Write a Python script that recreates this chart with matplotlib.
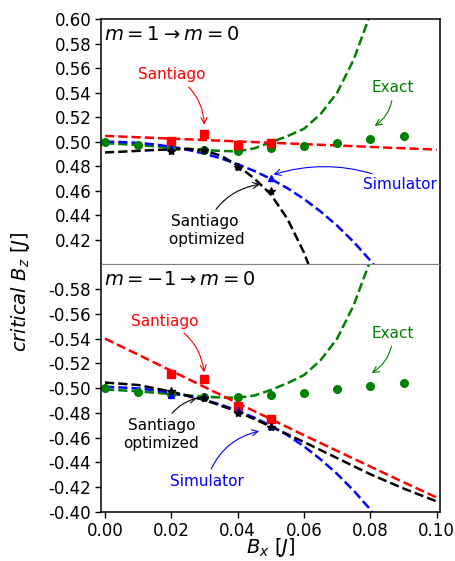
import matplotlib

matplotlib.use("Agg")
import matplotlib.pyplot as plt

# dense x positions for the fitted curves
BX_FINE = [0.000, 0.005, 0.010, 0.015, 0.020, 0.025, 0.030, 0.035, 0.040,
           0.045, 0.050, 0.055, 0.060, 0.065, 0.070, 0.075, 0.080, 0.085]
BX_COARSE = [0.00, 0.01, 0.02, 0.03, 0.04, 0.05, 0.06, 0.07, 0.08, 0.09, 0.10]
BX_BLACK_TOP = [0.000, 0.005, 0.010, 0.015, 0.020, 0.025, 0.030, 0.035,
                0.040, 0.045, 0.050, 0.055, 0.060, 0.065]
BX_EXACT = [0.00, 0.01, 0.02, 0.03, 0.04, 0.05, 0.06, 0.07, 0.08, 0.09]
BX_SIM = [0.02, 0.03, 0.04, 0.05]

# m = 1 -> m = 0
exact_fit_top = [0.4988, 0.4980, 0.4972, 0.4962, 0.4952, 0.4942, 0.4932, 0.4924, 0.4921,
                 0.4945, 0.4995, 0.5045, 0.5105, 0.5225, 0.5400, 0.5670, 0.6040, 0.6480]
simulator_fit_top = [0.5000, 0.4997, 0.4990, 0.4977, 0.4958, 0.4933, 0.4902, 0.4863, 0.4816,
                     0.4761, 0.4696, 0.4620, 0.4532, 0.4430, 0.4314, 0.4181, 0.4030, 0.3859]
santiago_fit_top = [0.5047, 0.5036, 0.5025, 0.5013, 0.5002, 0.4991, 0.4980, 0.4969,
                    0.4957, 0.4946, 0.4935]
optimized_fit_top = [0.4912, 0.4918, 0.4925, 0.4932, 0.4937, 0.4940, 0.4928, 0.4885,
                     0.4805, 0.4700, 0.4570, 0.4370, 0.4095, 0.3740]
exact_top = [0.5000, 0.4972, 0.4950, 0.4935, 0.4920, 0.4945, 0.4966, 0.4993, 0.5018, 0.5045]
santiago_top = [0.5002, 0.5060, 0.4970, 0.4990]
simulator_top = [0.4945, 0.4937, 0.4804, 0.4700]
optimized_top = [0.4925, 0.4935, 0.4795, 0.4595]

# m = -1 -> m = 0
exact_fit_bot = [-0.4990, -0.4982, -0.4974, -0.4963, -0.4952, -0.4941, -0.4931, -0.4924, -0.4922,
                 -0.4940, -0.4985, -0.5040, -0.5105, -0.5225, -0.5400, -0.5670, -0.6030, -0.6470]
simulator_fit_bot = [-0.5010, -0.5005, -0.4997, -0.4983, -0.4963, -0.4937, -0.4905, -0.4866, -0.4818,
                     -0.4762, -0.4697, -0.4620, -0.4530, -0.4425, -0.4307, -0.4172, -0.4020, -0.3850]
santiago_fit_bot = [-0.5400, -0.5270, -0.5140, -0.5009, -0.4879, -0.4750, -0.4620,
                    -0.4493, -0.4367, -0.4241, -0.4117]
optimized_fit_bot = [-0.5045, -0.5025, -0.4972, -0.4905, -0.4810, -0.4690, -0.4565,
                     -0.4435, -0.4305, -0.4190, -0.4086]
exact_bot = [-0.5000, -0.4970, -0.4950, -0.4930, -0.4931, -0.4942, -0.4964, -0.4996, -0.5017, -0.5039]
santiago_bot = [-0.5112, -0.5075, -0.4855, -0.4747]
simulator_bot = [-0.4942, -0.4935, -0.4823, -0.4693]
optimized_bot = [-0.4975, -0.4923, -0.4796, -0.4690]

LW = 1.8


def draw_panel(ax, exact_fit, sim_fit, sant_fit, opt_x, opt_fit, exact, sant, sim, opt):
    ax.plot(BX_FINE, exact_fit, "--", color="green", lw=LW)
    ax.plot(BX_FINE, sim_fit, "--", color="blue", lw=LW)
    ax.plot(BX_COARSE, sant_fit, "--", color="red", lw=LW)
    ax.plot(opt_x, opt_fit, "--", color="black", lw=LW)
    ax.plot(BX_EXACT, exact, "o", color="green", ms=5.5, ls="none")
    ax.plot(BX_SIM, sant, "s", color="red", ms=6, ls="none")
    ax.plot(BX_SIM, sim, "^", color="blue", ms=5, ls="none")
    ax.plot(BX_SIM, opt, "*", color="black", ms=6, ls="none")


def note(ax, text, xy, xytext, color, rad):
    ax.annotate(text, xy=xy, xytext=xytext, color=color, fontsize=11,
                ha="center", va="center",
                arrowprops=dict(arrowstyle="->", color=color, lw=0.8,
                                connectionstyle=f"arc3,rad={rad}"))


fig = plt.figure(figsize=(4.55, 5.61), dpi=100)
ax1 = fig.add_axes([0.222, 0.529, 0.745, 0.437])
ax2 = fig.add_axes([0.222, 0.0873, 0.745, 0.4417], sharex=ax1)

draw_panel(ax1, exact_fit_top, simulator_fit_top, santiago_fit_top, BX_BLACK_TOP,
           optimized_fit_top, exact_top, santiago_top, simulator_top, optimized_top)
draw_panel(ax2, exact_fit_bot, simulator_fit_bot, santiago_fit_bot, BX_COARSE,
           optimized_fit_bot, exact_bot, santiago_bot, simulator_bot, optimized_bot)

ax1.set_xlim(-0.0012, 0.101)
ax1.set_ylim(0.40, 0.60)
ax1.set_yticks([0.42, 0.44, 0.46, 0.48, 0.50, 0.52, 0.54, 0.56, 0.58, 0.60])
ax1.tick_params(bottom=False, labelbottom=False)
ax2.set_ylim(-0.40, -0.60)
ax2.set_yticks([-0.58, -0.56, -0.54, -0.52, -0.50, -0.48, -0.46, -0.44, -0.42, -0.40])
ax2.set_xticks([0.00, 0.02, 0.04, 0.06, 0.08, 0.10])

for ax in (ax1, ax2):
    ax.yaxis.set_major_formatter(matplotlib.ticker.FormatStrFormatter("%.2f"))
    ax.tick_params(labelsize=12, length=4.5, width=1.0, pad=2.5)
    for side in ("left", "right", "top", "bottom"):
        ax.spines[side].set_linewidth(1.1)
ax2.xaxis.set_major_formatter(matplotlib.ticker.FormatStrFormatter("%.2f"))
ax2.tick_params(axis="x", pad=3.0)

ax1.spines["bottom"].set_color("gray")
ax1.spines["bottom"].set_linewidth(0.8)
ax2.spines["top"].set_color("gray")
ax2.spines["top"].set_linewidth(0.8)

ax1.text(0.01, 0.975, r"$m=1\rightarrow m=0$", transform=ax1.transAxes,
         fontsize=14, va="top", ha="left")
ax2.text(0.01, 0.975, r"$m=-1\rightarrow m=0$", transform=ax2.transAxes,
         fontsize=14, va="top", ha="left")

note(ax1, "Santiago", (0.0300, 0.5115), (0.0200, 0.5547), "red", -0.3)
note(ax1, "Exact", (0.0806, 0.5115), (0.0867, 0.5440), "green", -0.3)
note(ax1, "Simulator", (0.0500, 0.4725), (0.0890, 0.4648), "blue", 0.2)
note(ax1, "Santiago\n optimized", (0.0476, 0.4656), (0.0300, 0.4275), "black", -0.3)

note(ax2, "Santiago", (0.0300, -0.5105), (0.0179, -0.5540), "red", -0.3)
note(ax2, "Exact", (0.0797, -0.5110), (0.0867, -0.5444), "green", -0.3)
note(ax2, "Santiago\noptimized", (0.0285, -0.4925), (0.0170, -0.4626), "black", -0.3)
note(ax2, "Simulator", (0.0473, -0.4658), (0.0306, -0.4245), "blue", -0.3)

ax2.set_xlabel(r"$B_x\ [J]$", fontsize=14, labelpad=-3)
fig.text(0.045, 0.48, r"$critical\ B_z\ [J]$", rotation=90, fontsize=14,
         ha="center", va="center")

fig.savefig("out.png", dpi=100)
